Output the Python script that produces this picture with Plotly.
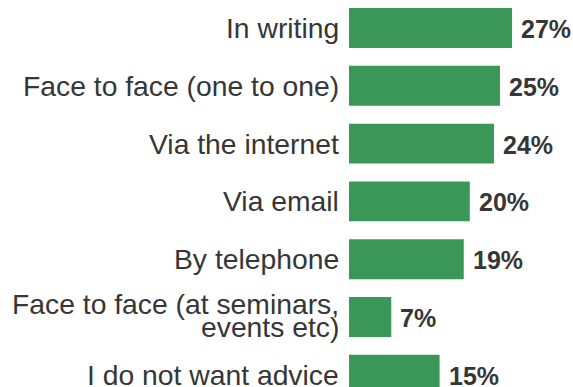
import plotly.graph_objects as go

categories = [
    "In writing",
    "Face to face (one to one)",
    "Via the internet",
    "Via email",
    "By telephone",
    "Face to face (at seminars,\nevents etc)",
    "I do not want advice",
]
shares = [27, 25, 24, 20, 19, 7, 15]
value_labels = [f"{v}%" for v in shares]

BAR_COLOR = "#3b9757"
TEXT_COLOR = "#363636"
FONT = "Liberation Sans, Arial, sans-serif"
LABEL_SIZE = 28.3
VALUE_SIZE = 25
LINE_STEP = 23  # tight leading for wrapped category labels

fig = go.Figure(
    go.Bar(
        x=shares,
        y=list(range(len(categories))),
        orientation="h",
        width=0.69,
        marker=dict(color=BAR_COLOR, line=dict(width=0)),
        hoverinfo="skip",
    )
)

# category labels, right-aligned just left of the bar baseline
for i, name in enumerate(categories):
    lines = name.split("\n")
    n = len(lines)
    lift = 2 if n > 1 else 0
    for k, line in enumerate(lines):
        offset = ((n - 1) / 2 - k) * LINE_STEP + lift
        fig.add_annotation(
            x=0, y=i, text=line, showarrow=False,
            xanchor="right", yanchor="middle", xshift=-8, yshift=offset,
            font=dict(family=FONT, size=LABEL_SIZE, color=TEXT_COLOR),
        )

# value labels at the end of each bar
for i, (v, lab) in enumerate(zip(shares, value_labels)):
    fig.add_annotation(
        x=v, y=i, text=f"<b>{lab}</b>", showarrow=False,
        xanchor="left", yanchor="middle", xshift=7, yshift=-1,
        font=dict(family=FONT, size=VALUE_SIZE, color=TEXT_COLOR),
    )

fig.update_layout(
    width=573, height=387,
    margin=dict(l=349, r=0, t=0, b=0),
    paper_bgcolor="white", plot_bgcolor="white",
    showlegend=False,
    font=dict(family=FONT, color=TEXT_COLOR),
)
fig.update_xaxes(range=[0, 37.09], visible=False, fixedrange=True)
fig.update_yaxes(
    range=[6.211, -0.484], visible=False,
    showgrid=False, zeroline=False, fixedrange=True,
)

fig.write_html("out.html")
